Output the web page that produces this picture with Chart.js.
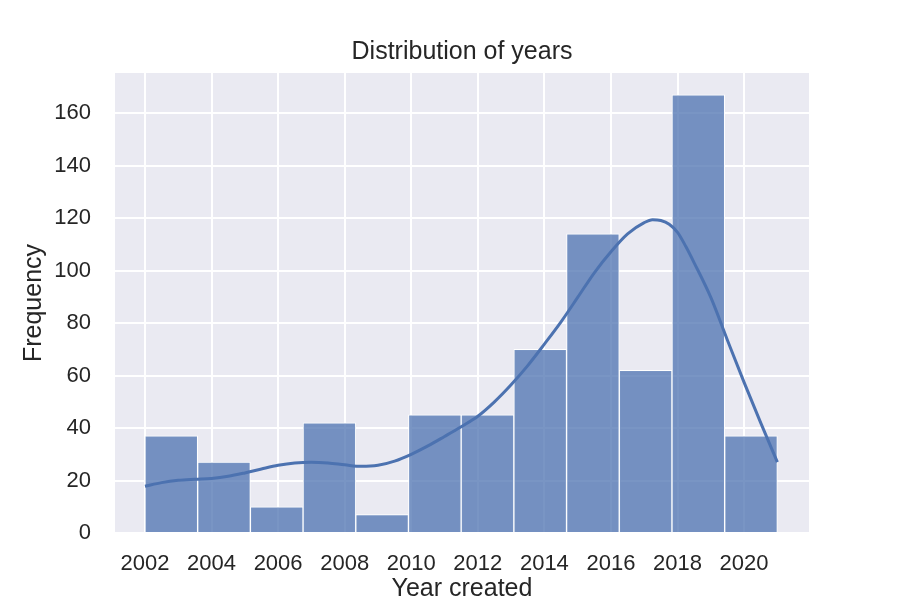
<!DOCTYPE html>
<html>
<head>
<meta charset="utf-8">
<script src="https://cdn.jsdelivr.net/npm/chart.js@4.4.1/dist/chart.umd.min.js"></script>
<style>
  html, body { margin: 0; padding: 0; background: #ffffff; }
  #wrap { width: 900px; height: 600px; }
</style>
</head>
<body>
<div id="wrap"><canvas id="c" width="900" height="600"></canvas></div>
<script>
// Histogram: 12 bins from 2002 to 2021
const binStart = 2002;
const binEnd = 2021;
const binCount = 12;
const binCounts = [37, 27, 10, 42, 7, 45, 45, 70, 114, 62, 167, 37];

// KDE curve
const kdeYears = [2002, 2002.5, 2003, 2003.5, 2004, 2004.5, 2005, 2005.5, 2006, 2006.5,
                  2007, 2007.5, 2008, 2008.5, 2009, 2009.5, 2010, 2010.5, 2011, 2011.5,
                  2012, 2012.5, 2013, 2013.5, 2014, 2014.5, 2015, 2015.5, 2016, 2016.5,
                  2017, 2017.25, 2017.5, 2017.75, 2018, 2018.25, 2018.5, 2019, 2019.5,
                  2020, 2020.5, 2021];
const kdeValues = [17.8, 19.2, 20.1, 20.5, 20.8, 21.6, 22.9, 24.4, 25.8, 26.7,
                   27.0, 26.7, 26.0, 25.4, 25.8, 27.4, 30.0, 33.2, 36.8, 40.5,
                   44.5, 50.0, 56.5, 63.8, 72.0, 80.5, 89.8, 99.2, 107.2, 114.0,
                   118.3, 119.4, 119.1, 117.7, 114.6, 109.2, 103.0, 89.8, 73.5,
                   57.4, 42.0, 27.0];

const xTicks = [2002, 2004, 2006, 2008, 2010, 2012, 2014, 2016, 2018, 2020];
const yTicks = [0, 20, 40, 60, 80, 100, 120, 140, 160];
const xMin = 2001.1;
const xMax = 2021.95;

const binWidth = (binEnd - binStart) / binCount;
const barData = binCounts.map((v, i) => ({ x: binStart + binWidth * (i + 0.5), y: v }));
const lineData = kdeYears.map((x, i) => ({ x: x, y: kdeValues[i] }));

const yMax = Math.max(...binCounts) * 1.05;

const FONT = "'Liberation Sans', Arial, Helvetica, sans-serif";
const TEXT = '#262626';

const bgPlugin = {
  id: 'bg',
  beforeDraw(chart) {
    const { ctx, chartArea: a } = chart;
    ctx.save();
    ctx.fillStyle = '#ffffff';
    ctx.fillRect(0, 0, chart.width, chart.height);
    ctx.fillStyle = '#EAEAF2';
    ctx.fillRect(a.left, a.top, a.right - a.left, a.bottom - a.top);
    ctx.restore();
  }
};

new Chart(document.getElementById('c'), {
  data: {
    datasets: [
      {
        type: 'line',
        data: lineData,
        borderColor: '#4C72B0',
        borderWidth: 3,
        pointRadius: 0,
        cubicInterpolationMode: 'monotone',
        fill: false,
        order: 1
      },
      {
        type: 'bar',
        data: barData,
        backgroundColor: 'rgba(76,114,176,0.75)',
        borderColor: '#ffffff',
        borderWidth: 1,
        barPercentage: 1.0,
        categoryPercentage: 1.0,
        order: 2
      }
    ]
  },
  options: {
    responsive: false,
    animation: false,
    devicePixelRatio: 1,
    layout: { padding: { left: 0, right: 91, top: 0, bottom: 0 } },
    plugins: {
      legend: { display: false },
      tooltip: { enabled: false },
      title: {
        display: true,
        fullSize: false,
        text: 'Distribution of years',
        color: TEXT,
        font: { family: FONT, size: 25, weight: 'normal', lineHeight: 1.2 },
        padding: { top: 37, bottom: 6 }
      }
    },
    scales: {
      x: {
        type: 'linear',
        offset: false,
        min: xMin,
        max: xMax,
        afterBuildTicks: s => { s.ticks = xTicks.map(v => ({ value: v })); },
        afterFit: s => { s.height = 67; },
        ticks: {
          color: TEXT,
          font: { family: FONT, size: 22 },
          padding: 18,
          maxRotation: 0,
          autoSkip: false,
          callback: v => String(v)
        },
        grid: { color: '#ffffff', lineWidth: 2, drawTicks: false, offset: false },
        border: { display: false },
        title: {
          display: true,
          text: 'Year created',
          color: TEXT,
          font: { family: FONT, size: 25, lineHeight: 1.2 },
          padding: { top: 0, bottom: -4 }
        }
      },
      y: {
        type: 'linear',
        min: 0,
        max: yMax,
        afterBuildTicks: s => { s.ticks = yTicks.map(v => ({ value: v })); },
        afterFit: s => { s.width = 115; },
        ticks: {
          color: TEXT,
          font: { family: FONT, size: 22 },
          padding: 24,
          autoSkip: false,
          callback: v => String(v)
        },
        grid: { color: '#ffffff', lineWidth: 2, drawTicks: false },
        border: { display: false },
        title: {
          display: true,
          text: 'Frequency',
          color: TEXT,
          font: { family: FONT, size: 25, lineHeight: 1.2 },
          padding: { top: 19, bottom: 0 }
        }
      }
    }
  },
  plugins: [bgPlugin]
});
</script>
</body>
</html>
